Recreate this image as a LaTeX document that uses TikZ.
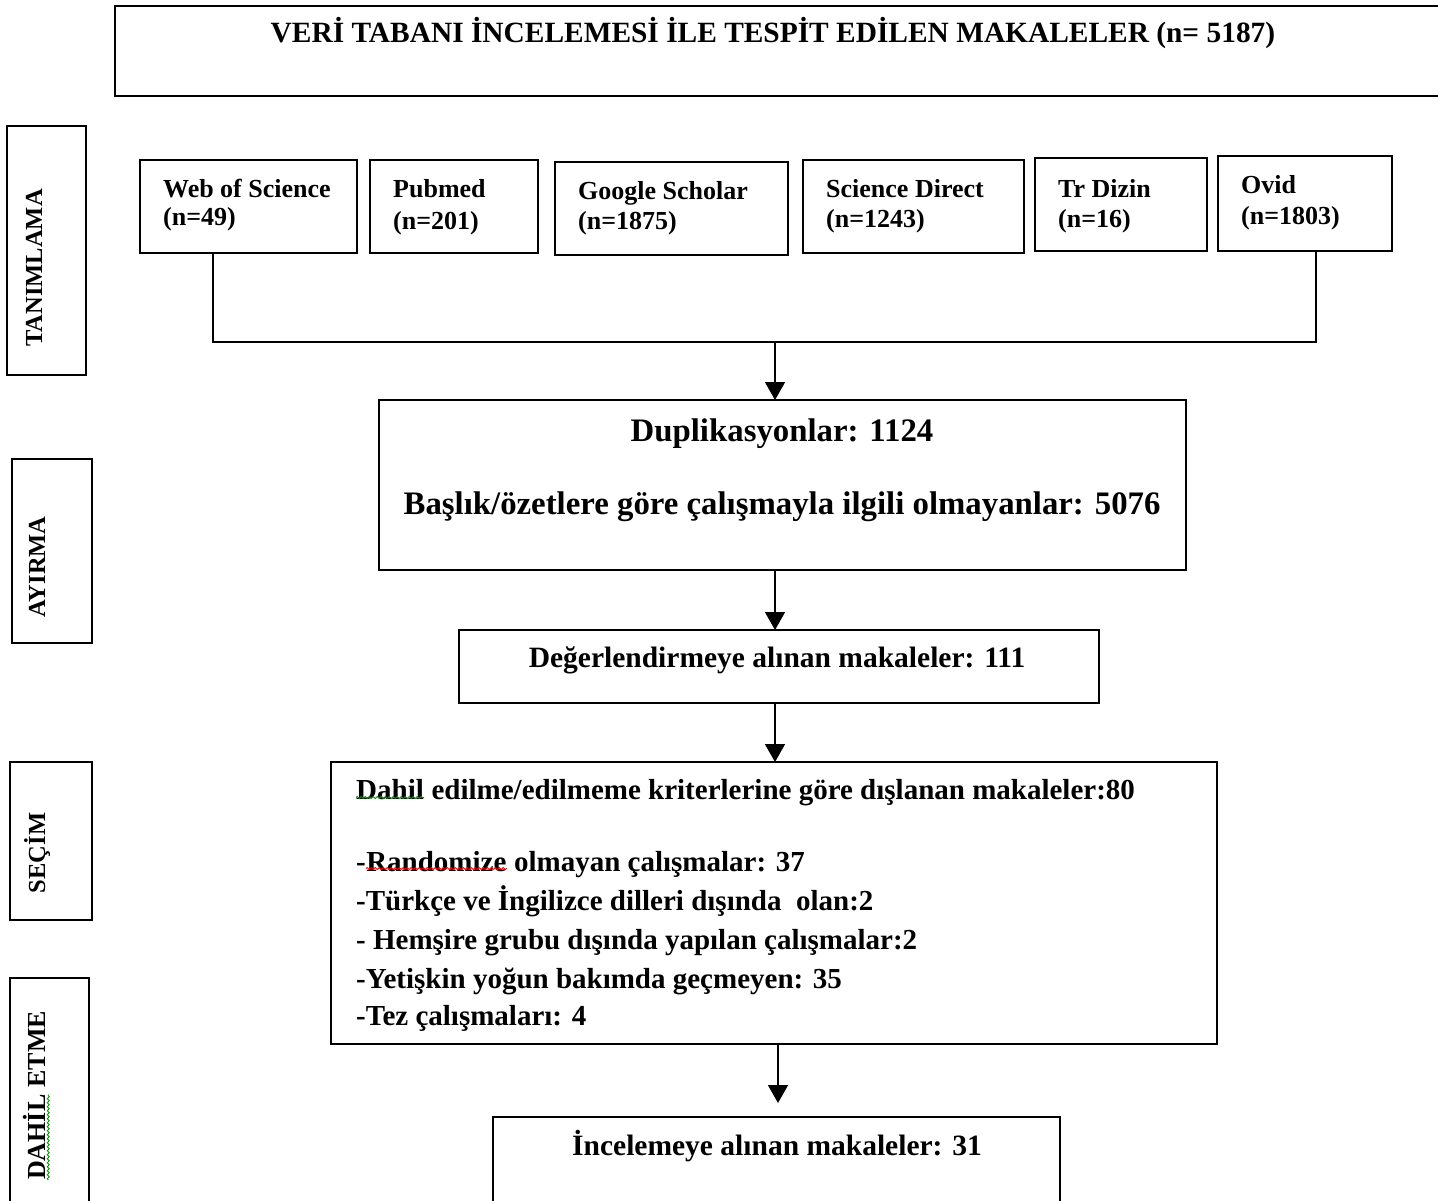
\documentclass[tikz,border=0pt]{standalone}
\usepackage{fontspec}
\setmainfont{Liberation Serif}
\usetikzlibrary{arrows.meta,decorations.pathmorphing}
\begin{document}
\begin{tikzpicture}[x=1pt,y=-1pt,
  box/.style={draw,line width=1.5pt,inner sep=0pt,outer sep=0pt,anchor=north west},
  srctxt/.style={inner sep=0pt,anchor=base west,font=\bfseries\fontsize{26}{30}\selectfont},
  bodytxt/.style={inner sep=0pt,anchor=base west,font=\bfseries\fontsize{29}{33}\selectfont},
  ctrtxt/.style={inner sep=0pt,anchor=base,font=\bfseries\fontsize{29.5}{34}\selectfont},
  duptxt/.style={inner sep=0pt,anchor=base,font=\bfseries\fontsize{32.8}{38}\selectfont},
  sidetxt/.style={inner sep=0pt,rotate=90,font=\bfseries\fontsize{24.5}{28}\selectfont},
  conn/.style={line width=1.5pt},
  arr/.style={line width=1.5pt,-{Triangle[width=20pt,length=18pt]}},
  wavy/.style={line width=0.9pt,decorate,decoration={snake,amplitude=1pt,segment length=4pt}}
]
\useasboundingbox (0,0) rectangle (1438,1200);
\clip (0,0) rectangle (1438,1200);
\fill[white] (0,0) rectangle (1438,1200);

% title
\node[box,minimum width=1340pt,minimum height=90pt] (top) at (115,6) {};
\node[inner sep=0pt,anchor=base,font=\bfseries\fontsize{29.4}{34}\selectfont] (toptxt) at (773,42) {VERİ TABANI İNCELEMESİ İLE TESPİT EDİLEN MAKALELER (n= 5187)};

% side boxes
\node[box,minimum width=79pt,minimum height=249pt] (tan) at (7,126) {};
\node[sidetxt,anchor=base] (tantxt) at (42,268) {TANIMLAMA};
\node[box,minimum width=80pt,minimum height=184pt] (ayi) at (12,459) {};
\node[sidetxt,anchor=base] (ayitxt) at (45,567) {AYIRMA};
\node[box,minimum width=82pt,minimum height=158pt] (sec) at (10,762) {};
\node[sidetxt,anchor=base] (sectxt) at (45,853) {SEÇİM};
\node[box,minimum width=79pt,minimum height=260pt] (dah) at (10,978) {};
\node[sidetxt,anchor=base west,font=\bfseries\fontsize{26}{30}\selectfont] (dahA) at (45,1180) {DAHİL};
\node[sidetxt,anchor=base west,font=\bfseries\fontsize{26}{30}\selectfont] (dahB) at (dahA.base east) {\ ETME};
\draw[wavy,green!60!black] ([xshift=3pt]dahA.south west) -- ([xshift=3pt]dahA.south east);

% source boxes
\node[box,minimum width=217pt,minimum height=93pt] (ws) at (140,160) {};
\node[srctxt] (ws1) at (163,197) {Web of Science};
\node[srctxt] (ws2) at (163,225) {(n=49)};
\node[box,minimum width=168pt,minimum height=93pt] (pm) at (370,160) {};
\node[srctxt] (pm1) at (393,197) {Pubmed};
\node[srctxt] (pm2) at (393,229) {(n=201)};
\node[box,minimum width=233pt,minimum height=93pt] (gs) at (555,162) {};
\node[srctxt] (gs1) at (578,199) {Google Scholar};
\node[srctxt] (gs2) at (578,229) {(n=1875)};
\node[box,minimum width=221pt,minimum height=93pt] (sd) at (803,160) {};
\node[srctxt] (sd1) at (826,197) {Science Direct};
\node[srctxt] (sd2) at (826,227) {(n=1243)};
\node[box,minimum width=172pt,minimum height=93pt] (tr) at (1035,158) {};
\node[srctxt] (tr1) at (1058,197) {Tr Dizin};
\node[srctxt] (tr2) at (1058,227) {(n=16)};
\node[box,minimum width=174pt,minimum height=95pt] (ov) at (1218,156) {};
\node[srctxt] (ov1) at (1241,193) {Ovid};
\node[srctxt] (ov2) at (1241,224) {(n=1803)};

% junction
\coordinate (j1) at (213,342);
\coordinate (j2) at (1316,342);
\coordinate (jm) at (775,342);
\draw[conn] (j1 |- ws.south) -- (j1) -- (j2) -- (j2 |- ov.south);

% duplicates
\node[box,minimum width=807pt,minimum height=170pt] (dup) at (379,400) {};
\node[duptxt] (dup1) at (782,441) {Duplikasyonlar: 1124};
\node[duptxt] (dup2) at (782,514) {Başlık/özetlere göre çalışmayla ilgili olmayanlar: 5076};
\draw[arr] (jm) -- (jm |- dup.north);

% evaluated
\node[box,minimum width=640pt,minimum height=73pt] (deg) at (459,630) {};
\node[ctrtxt] (degtxt) at (777,667) {Değerlendirmeye alınan makaleler: 111};
\draw[arr] (jm |- dup.south) -- (jm |- deg.north);

% excluded
\node[box,minimum width=886pt,minimum height=282pt] (exc) at (331,762) {};
\draw[arr] (jm |- deg.south) -- (jm |- exc.north);
\node[bodytxt] (e1a) at (356,799) {Dahil};
\node[bodytxt] (e1b) at (e1a.base east) {\ edilme/edilmeme kriterlerine göre dışlanan makaleler:80};
\draw[wavy,green!60!black] ([yshift=2pt]e1a.south west) -- ([yshift=2pt]e1a.south east);
\node[bodytxt] (e2a) at (356,871) {-};
\node[bodytxt] (e2b) at (e2a.base east) {Randomize};
\node[bodytxt] (e2c) at (e2b.base east) {\ olmayan çalışmalar: 37};
\draw[wavy,red] ([yshift=3pt]e2b.south west) -- ([yshift=3pt]e2b.south east);
\node[bodytxt] (e3) at (356,910) {-Türkçe ve İngilizce dilleri dışında\ \ olan:2};
\node[bodytxt] (e4) at (356,949) {-\ Hemşire grubu dışında yapılan çalışmalar:2};
\node[bodytxt] (e5) at (356,988) {-Yetişkin yoğun bakımda geçmeyen: 35};
\node[bodytxt] (e6) at (356,1025) {-Tez çalışmaları: 4};

% included
\coordinate (jb) at (778,1103);
\node[box,minimum width=567pt,minimum height=110pt] (inc) at (493,1117) {};
\node[ctrtxt] (inctxt) at (777,1155) {İncelemeye alınan makaleler: 31};
\draw[arr] (jb |- exc.south) -- (jb);
\end{tikzpicture}
\end{document}
